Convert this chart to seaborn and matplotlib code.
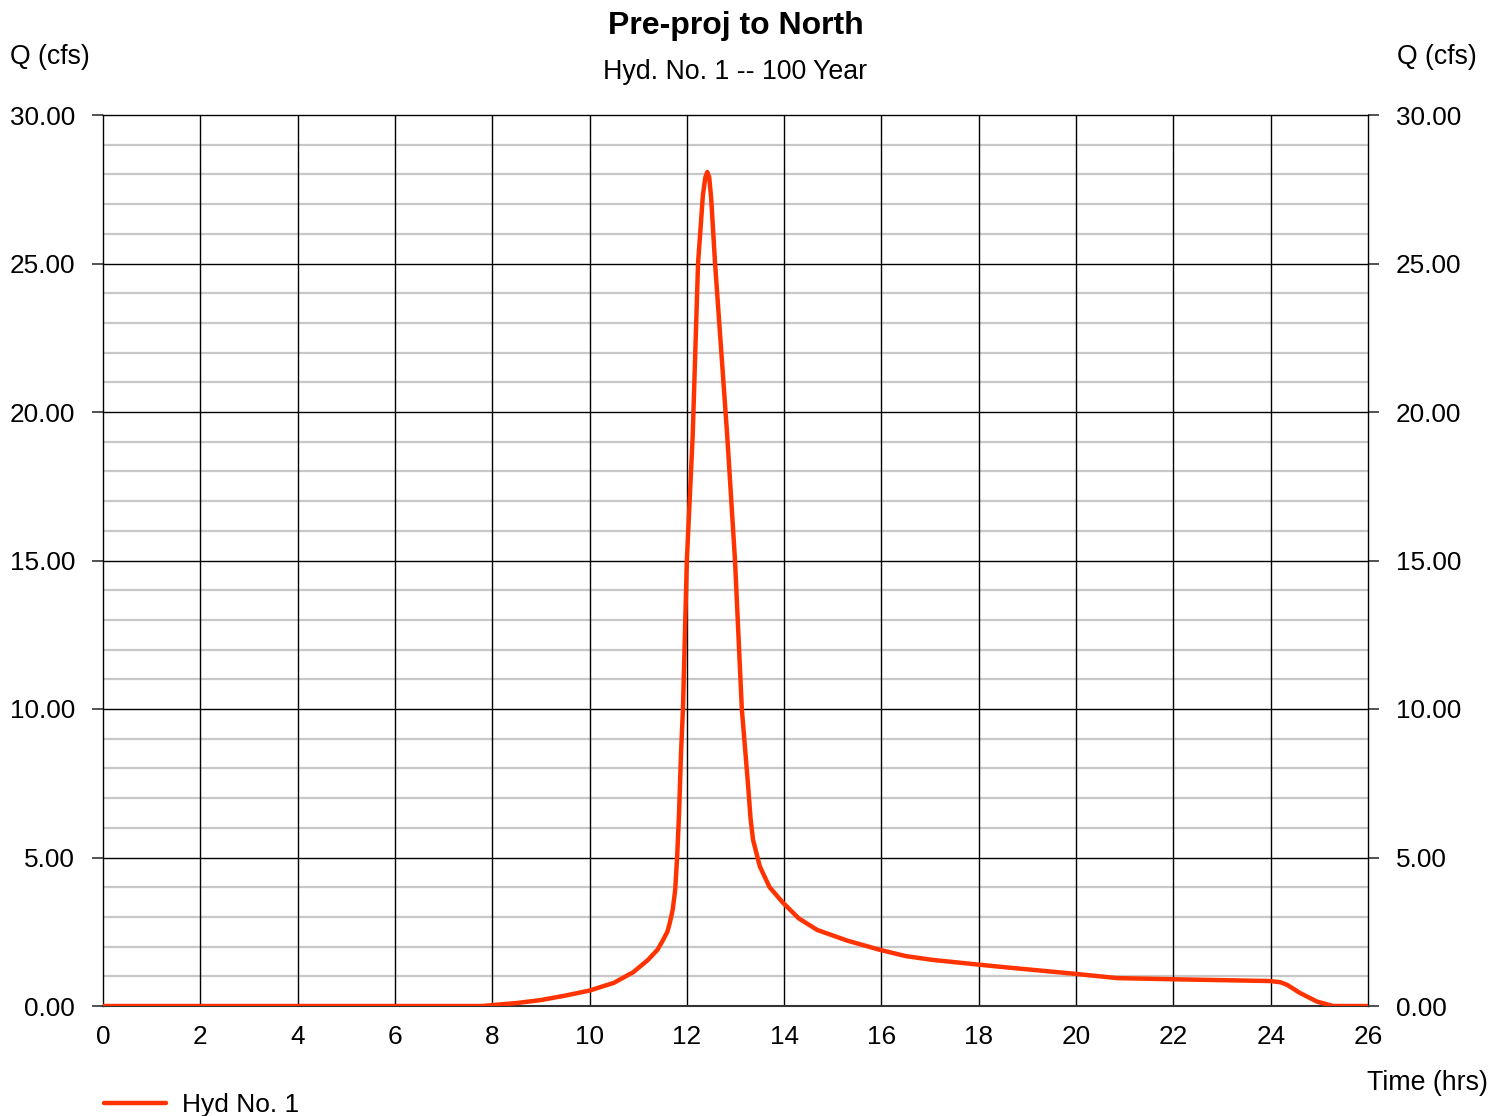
import numpy as np
import pandas as pd
import matplotlib
matplotlib.use('Agg')
import matplotlib.pyplot as plt
from matplotlib.lines import Line2D
from matplotlib.ticker import MultipleLocator
import seaborn as sns

# Hydrograph values
hours = [0, 7.8, 8.0, 8.5, 9.0, 9.5, 10.0, 10.5, 10.9, 11.2, 11.4, 11.51,
         11.6, 11.65, 11.71, 11.76, 11.8, 11.84, 11.88, 11.92, 12.0, 12.12,
         12.23, 12.33, 12.38, 12.42, 12.46, 12.5, 12.58, 12.83, 12.99, 13.13,
         13.2, 13.26, 13.31, 13.36, 13.5, 13.7, 13.98, 14.3, 14.68, 15.3,
         15.97, 16.5, 17.06, 18.44, 20.0, 20.84, 22.0, 23.99, 24.2, 24.34,
         24.6, 24.95, 25.28, 26.0]
flow = [0, 0, 0.03, 0.1, 0.2, 0.35, 0.52, 0.78, 1.14, 1.55, 1.9, 2.22,
        2.5, 2.8, 3.25, 3.9, 5.0, 6.5, 8.5, 10.0, 15.0, 19.2,
        25.0, 27.3, 27.9, 28.08, 27.9, 27.2, 25.0, 19.2, 15.0, 10.0,
        8.6, 7.4, 6.3, 5.6, 4.7, 4.0, 3.47, 2.95, 2.56, 2.2,
        1.89, 1.68, 1.55, 1.32, 1.08, 0.94, 0.9, 0.84, 0.8, 0.71,
        0.44, 0.15, 0.0, 0.0]

title = 'Pre-proj to North'
subtitle = 'Hyd. No. 1 -- 100 Year'
series_name = 'Hyd No. 1'

df = pd.DataFrame({'hours': hours, 'flow': flow})

sns.set_style('white')
plt.rcParams['font.family'] = ['Liberation Sans', 'DejaVu Sans']
plt.rcParams['text.color'] = 'black'
plt.rcParams['xtick.color'] = 'black'
plt.rcParams['ytick.color'] = 'black'

fig = plt.figure(figsize=(14.91, 11.16), dpi=100)
ax = fig.add_axes([103 / 1491, 1 - 1006 / 1116, 1265 / 1491, 891 / 1116])

# grid lines
for q in np.arange(1, 30, 1):
    if q % 5 != 0:
        ax.axhline(q, color='#c8c8c8', lw=1.6, zorder=1)
for q in np.arange(5, 30, 5):
    ax.axhline(q, color='black', lw=1.0, zorder=1.5)
for h in np.arange(2, 26, 2):
    ax.axvline(h, color='black', lw=1.0, zorder=1.5)

sns.lineplot(data=df, x='hours', y='flow', ax=ax, color='#ff3300', lw=3.2,
             zorder=3, legend=False)

ax.set_xlim(0, 26)
ax.set_ylim(0, 30)
ax.xaxis.set_major_locator(MultipleLocator(2))
ax.yaxis.set_major_locator(MultipleLocator(5))
ax.yaxis.set_major_formatter(lambda v, p: f'{v:.2f}')
ax.set_xlabel('')
ax.set_ylabel('')
ax.tick_params(axis='x', length=0, pad=14, labelsize=18.8, labelcolor='black')
ax.tick_params(axis='y', length=8, width=1.2, color='#333333', pad=12,
               labelsize=18.8, labelcolor='black', left=True, right=True,
               labelleft=True, labelright=True)
for s in ax.spines.values():
    s.set_color('black')
    s.set_linewidth(1.0)
ax.spines['bottom'].set_color('#333333')
ax.spines['bottom'].set_linewidth(1.5)

fig.text(735.5 / 1491, 1 - 26 / 1116, title, ha='center', va='center',
         fontsize=23, fontweight='bold')
fig.text(735.5 / 1491, 1 - 72 / 1116, subtitle, ha='center', va='center',
         fontsize=19.3)
fig.text(10 / 1491, 1 - 57 / 1116, 'Q (cfs)', ha='left', va='center', fontsize=19.2)
fig.text(1477 / 1491, 1 - 57 / 1116, 'Q (cfs)', ha='right', va='center', fontsize=19.2)
fig.text(1488 / 1491, 1 - 1083 / 1116, 'Time (hrs)', ha='right', va='center',
         fontsize=19.3)

handle = Line2D([0], [0], color='#ff3300', lw=3.2)
fig.legend([handle], [series_name], loc='center left',
           bbox_to_anchor=(80 / 1491, 1 - 1105 / 1116), frameon=False,
           fontsize=19, handlelength=2.35, handletextpad=0.6)

fig.savefig('out.png', dpi=100)
